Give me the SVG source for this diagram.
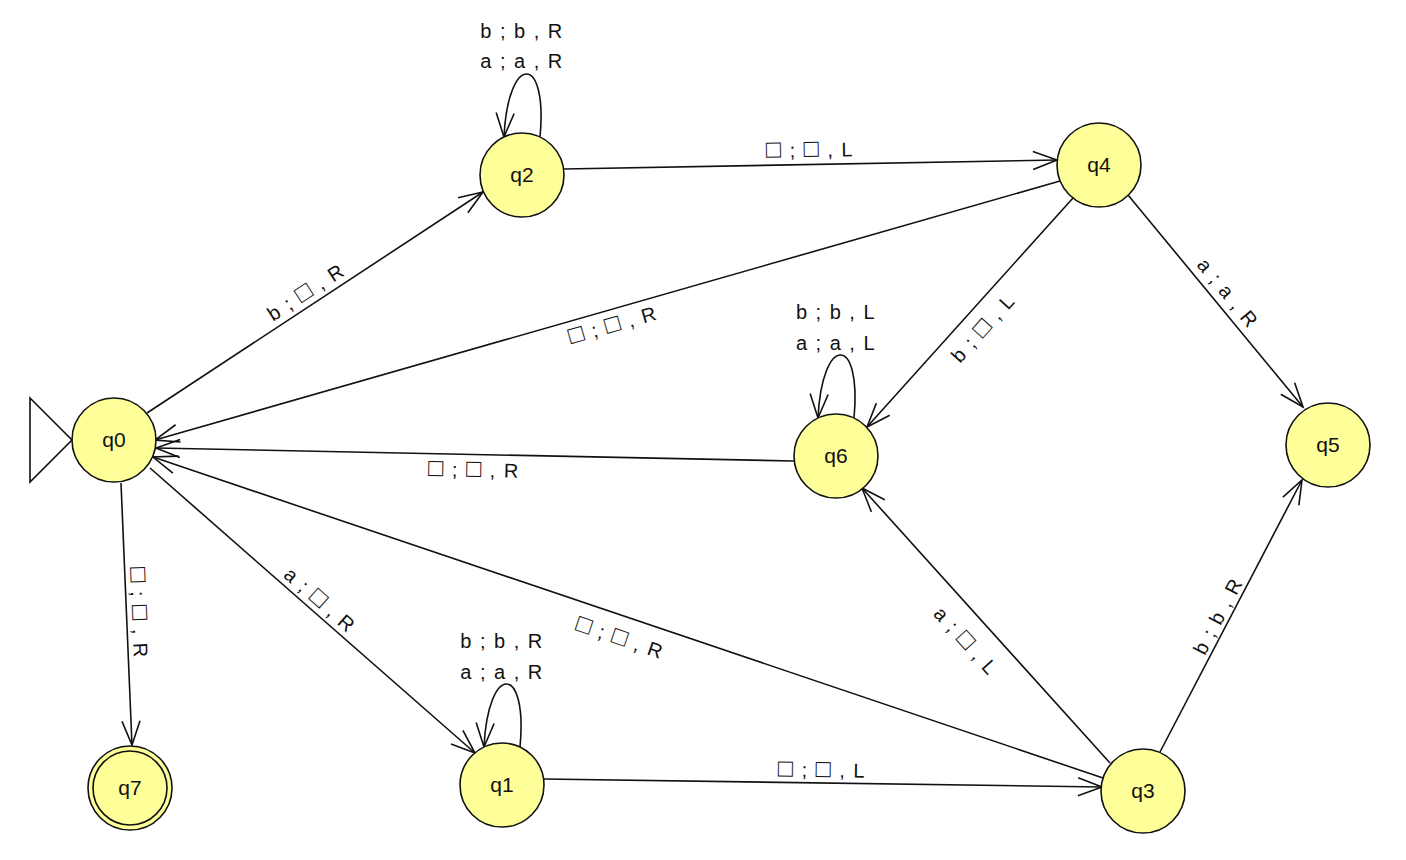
<svg xmlns="http://www.w3.org/2000/svg" width="1406" height="860" viewBox="0 0 1406 860">
<defs>
<style>
.st circle{fill:#ffff99;stroke:#111;stroke-width:1.6}
.st text{font-family:"Liberation Sans",Arial,sans-serif;font-size:21px;fill:#111;text-anchor:middle}
.edges path,.edges line{stroke:#111;stroke-width:1.6;fill:none;marker-end:url(#arr)}
.lbl{font-family:"Liberation Sans",Arial,"DejaVu Sans",sans-serif;font-size:20px;fill:#111;text-anchor:middle;letter-spacing:1.5px}
.bx{font-size:25px}
</style>
<marker id="arr" markerUnits="userSpaceOnUse" viewBox="-28 -12 30 24" markerWidth="30" markerHeight="24" refX="0" refY="0" orient="auto" overflow="visible">
<path d="M-24,-9 L0,0 L-24,9" fill="none" stroke="#111" stroke-width="1.6"/>
</marker>
</defs>
<rect width="1406" height="860" fill="#fff"/>
<g class="edges" id="connectors">
<line x1="147" y1="413" x2="483" y2="192"/>
<line x1="564" y1="169" x2="1057" y2="160"/>
<line x1="1060" y1="181" x2="155" y2="440"/>
<line x1="1073" y1="198" x2="867" y2="427"/>
<line x1="1128" y1="195" x2="1303" y2="407"/>
<line x1="794" y1="461" x2="156" y2="448"/>
<line x1="1103" y1="778" x2="153" y2="457"/>
<line x1="1110" y1="763" x2="862" y2="488"/>
<line x1="1160" y1="752" x2="1302" y2="480"/>
<line x1="150" y1="468" x2="475" y2="753"/>
<line x1="544" y1="779" x2="1102" y2="787"/>
<line x1="121" y1="483" x2="132" y2="745"/>
<path d="M540,137 C548,53 508,53 504,137"/>
<path d="M854,418 C862,334 822,334 818,418"/>
<path d="M520,747 C528,663 488,663 484,747"/>
<text class="lbl" transform="translate(306,292) rotate(-32.9)" y="7">b ; <tspan class="bx">□</tspan> , R</text>
<text class="lbl" transform="translate(810,150) rotate(-1)" y="7"><tspan class="bx">□</tspan> ; <tspan class="bx">□</tspan> , L</text>
<text class="lbl" transform="translate(613,325) rotate(-16)" y="7"><tspan class="bx">□</tspan> ; <tspan class="bx">□</tspan> , R</text>
<text class="lbl" transform="translate(983,328) rotate(-48)" y="7">b ; <tspan class="bx">□</tspan> , L</text>
<text class="lbl" transform="translate(1228,293) rotate(50.5)" y="7">a ; a , R</text>
<text class="lbl" transform="translate(474,470) rotate(1.2)" y="7"><tspan class="bx">□</tspan> ; <tspan class="bx">□</tspan> , R</text>
<text class="lbl" transform="translate(620,638) rotate(18.7)" y="7"><tspan class="bx">□</tspan> ; <tspan class="bx">□</tspan> , R</text>
<text class="lbl" transform="translate(966,641) rotate(47.9)" y="7">a ; <tspan class="bx">□</tspan> , L</text>
<text class="lbl" transform="translate(1218,616) rotate(-62.4)" y="7">b ; b , R</text>
<text class="lbl" transform="translate(320,600) rotate(41.2)" y="7">a ; <tspan class="bx">□</tspan> , R</text>
<text class="lbl" transform="translate(822,770) rotate(0.8)" y="7"><tspan class="bx">□</tspan> ; <tspan class="bx">□</tspan> , L</text>
<text class="lbl" transform="translate(139,613) rotate(87.6)" y="7"><tspan class="bx">□</tspan> ; <tspan class="bx">□</tspan> , R</text>
<text class="lbl" x="522" y="38">b ; b , R</text>
<text class="lbl" x="522" y="68">a ; a , R</text>
<text class="lbl" x="836" y="319">b ; b , L</text>
<text class="lbl" x="836" y="350">a ; a , L</text>
<text class="lbl" x="502" y="648">b ; b , R</text>
<text class="lbl" x="502" y="679">a ; a , R</text>
</g>
<polygon id="start" points="30,398 72,440 30,482" fill="#fff" stroke="#111" stroke-width="1.6"/>
<g class="st" id="q0"><circle cx="114" cy="440" r="42"/><text x="114" y="447">q0</text></g>
<g class="st" id="q2"><circle cx="522" cy="175" r="42"/><text x="522" y="182">q2</text></g>
<g class="st" id="q4"><circle cx="1099" cy="165" r="42"/><text x="1099" y="172">q4</text></g>
<g class="st" id="q6"><circle cx="836" cy="456" r="42"/><text x="836" y="463">q6</text></g>
<g class="st" id="q5"><circle cx="1328" cy="445" r="42"/><text x="1328" y="452">q5</text></g>
<g class="st" id="q1"><circle cx="502" cy="785" r="42"/><text x="502" y="792">q1</text></g>
<g class="st" id="q3"><circle cx="1143" cy="791" r="42"/><text x="1143" y="798">q3</text></g>
<g class="st" id="q7"><circle cx="130" cy="788" r="42"/><circle cx="130" cy="788" r="37"/><text x="130" y="795">q7</text></g>
</svg>
